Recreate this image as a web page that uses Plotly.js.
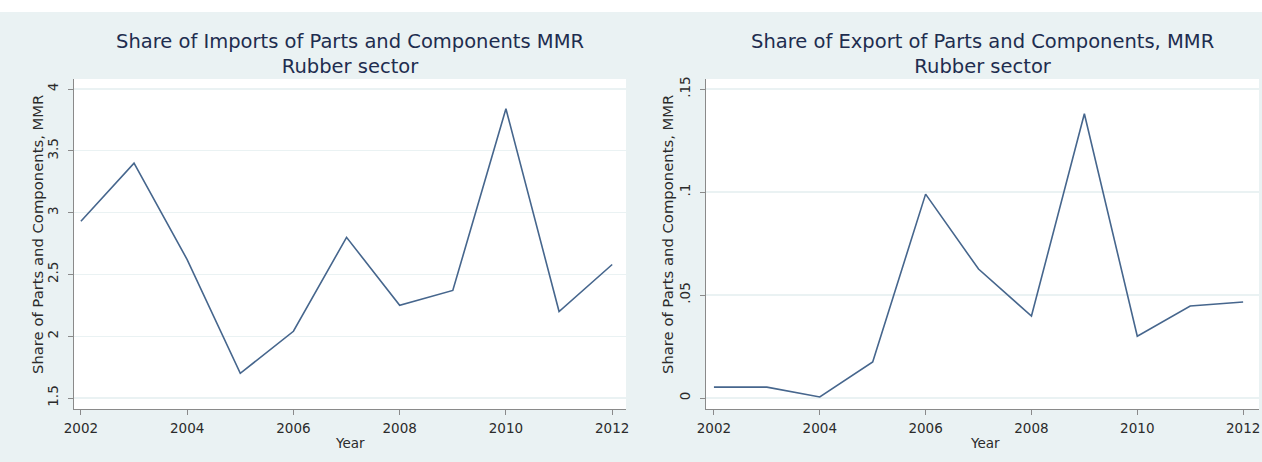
<!DOCTYPE html>
<html>
<head>
<meta charset="utf-8">
<script src="https://cdn.plot.ly/plotly-3.0.1.min.js"></script>
<style>
html,body{margin:0;padding:0;background:#ffffff;}
#chart{width:1262px;height:462px;}
</style>
</head>
<body>
<div id="chart"></div>
<script>
const years = [2002, 2003, 2004, 2005, 2006, 2007, 2008, 2009, 2010, 2011, 2012];
const importShare = [2.93, 3.40, 2.62, 1.70, 2.04, 2.80, 2.25, 2.37, 3.84, 2.20, 2.58];
const exportShare = [0.0053, 0.0053, 0.0005, 0.0175, 0.099, 0.0626, 0.0398, 0.138, 0.030, 0.0447, 0.0466];
const xTicks = [2002, 2004, 2006, 2008, 2010, 2012];
const yTicksLeft = [1.5, 2, 2.5, 3, 3.5, 4];
const yTickTextLeft = ['1.5', '2', '2.5', '3', '3.5', '4'];
const yTicksRight = [0, 0.05, 0.1, 0.15];
const yTickTextRight = ['0', '.05', '.1', '.15'];
const titleLeft = 'Share of Imports of Parts and Components MMR<br>Rubber sector';
const titleRight = 'Share of Export of Parts and Components, MMR<br>Rubber sector';
const yTitle = 'Share of Parts and Components, MMR';
const xTitle = 'Year';

const W = 1262, H = 462;
const px = v => v / W;
const py = v => 1 - v / H;

const lineColor = '#46668d';
const font = 'DejaVu Sans, Liberation Sans, Arial, sans-serif';
const tickFont = {family: font, size: 13.5, color: '#2b2b2b'};

const traces = [
  {x: years, y: importShare, type: 'scatter', mode: 'lines', xaxis: 'x', yaxis: 'y',
   line: {color: lineColor, width: 1.6}, hoverinfo: 'x+y', showlegend: false},
  {x: years, y: exportShare, type: 'scatter', mode: 'lines', xaxis: 'x2', yaxis: 'y2',
   line: {color: lineColor, width: 1.6}, hoverinfo: 'x+y', showlegend: false}
];

const axisCommon = {
  showline: true, linecolor: '#8a8a8a', linewidth: 1.2,
  ticks: 'outside', ticklen: 5, tickcolor: '#8a8a8a', tickwidth: 1,
  tickfont: tickFont, zeroline: false, automargin: false, fixedrange: true
};

const layout = {
  width: W, height: H,
  margin: {l: 0, r: 0, t: 0, b: 0},
  paper_bgcolor: '#eaf2f3',
  plot_bgcolor: '#ffffff',
  showlegend: false,
  xaxis: Object.assign({}, axisCommon, {
    domain: [px(74), px(626)], range: [2001.87, 2012.26],
    tickvals: xTicks, showgrid: false, anchor: 'y', ticklabelstandoff: 2
  }),
  yaxis: Object.assign({}, axisCommon, {
    domain: [py(409), py(79)], range: [1.411, 4.081],
    tickvals: yTicksLeft, ticktext: yTickTextLeft, tickangle: -90, ticklabelstandoff: 4,
    showgrid: true, gridcolor: '#eaf2f3', gridwidth: 1.2, anchor: 'x'
  }),
  xaxis2: Object.assign({}, axisCommon, {
    domain: [px(706), px(1259)], range: [2001.85, 2012.3],
    tickvals: xTicks, showgrid: false, anchor: 'y2', ticklabelstandoff: 2
  }),
  yaxis2: Object.assign({}, axisCommon, {
    domain: [py(409), py(79)], range: [-0.00534, 0.1549],
    tickvals: yTicksRight, ticktext: yTickTextRight, tickangle: -90, ticklabelstandoff: 4,
    showgrid: true, gridcolor: '#eaf2f3', gridwidth: 1.2, anchor: 'x2'
  }),
  shapes: [
    {type: 'rect', xref: 'paper', yref: 'paper', x0: 0, x1: 1, y0: py(12), y1: 1,
     fillcolor: '#ffffff', line: {width: 0}, layer: 'below'}
  ],
  annotations: [
    {text: titleLeft, xref: 'paper', yref: 'paper', x: px(350), y: py(54),
     xanchor: 'center', yanchor: 'middle', showarrow: false,
     font: {family: font, size: 19.5, color: '#1e2d4f'}},
    {text: titleRight, xref: 'paper', yref: 'paper', x: px(982), y: py(54),
     xanchor: 'center', yanchor: 'middle', showarrow: false,
     font: {family: font, size: 19.5, color: '#1e2d4f'}},
    {text: yTitle, xref: 'paper', yref: 'paper', x: px(37), y: py(235),
     xanchor: 'center', yanchor: 'middle', textangle: -90, showarrow: false,
     font: {family: font, size: 14.8, color: '#2b2b2b'}},
    {text: yTitle, xref: 'paper', yref: 'paper', x: px(667), y: py(235),
     xanchor: 'center', yanchor: 'middle', textangle: -90, showarrow: false,
     font: {family: font, size: 14.8, color: '#2b2b2b'}},
    {text: xTitle, xref: 'paper', yref: 'paper', x: px(350), y: py(443),
     xanchor: 'center', yanchor: 'middle', showarrow: false,
     font: {family: font, size: 13.5, color: '#2b2b2b'}},
    {text: xTitle, xref: 'paper', yref: 'paper', x: px(985), y: py(443),
     xanchor: 'center', yanchor: 'middle', showarrow: false,
     font: {family: font, size: 13.5, color: '#2b2b2b'}}
  ]
};

Plotly.newPlot('chart', traces, layout, {staticPlot: true, displayModeBar: false});
</script>
</body>
</html>
